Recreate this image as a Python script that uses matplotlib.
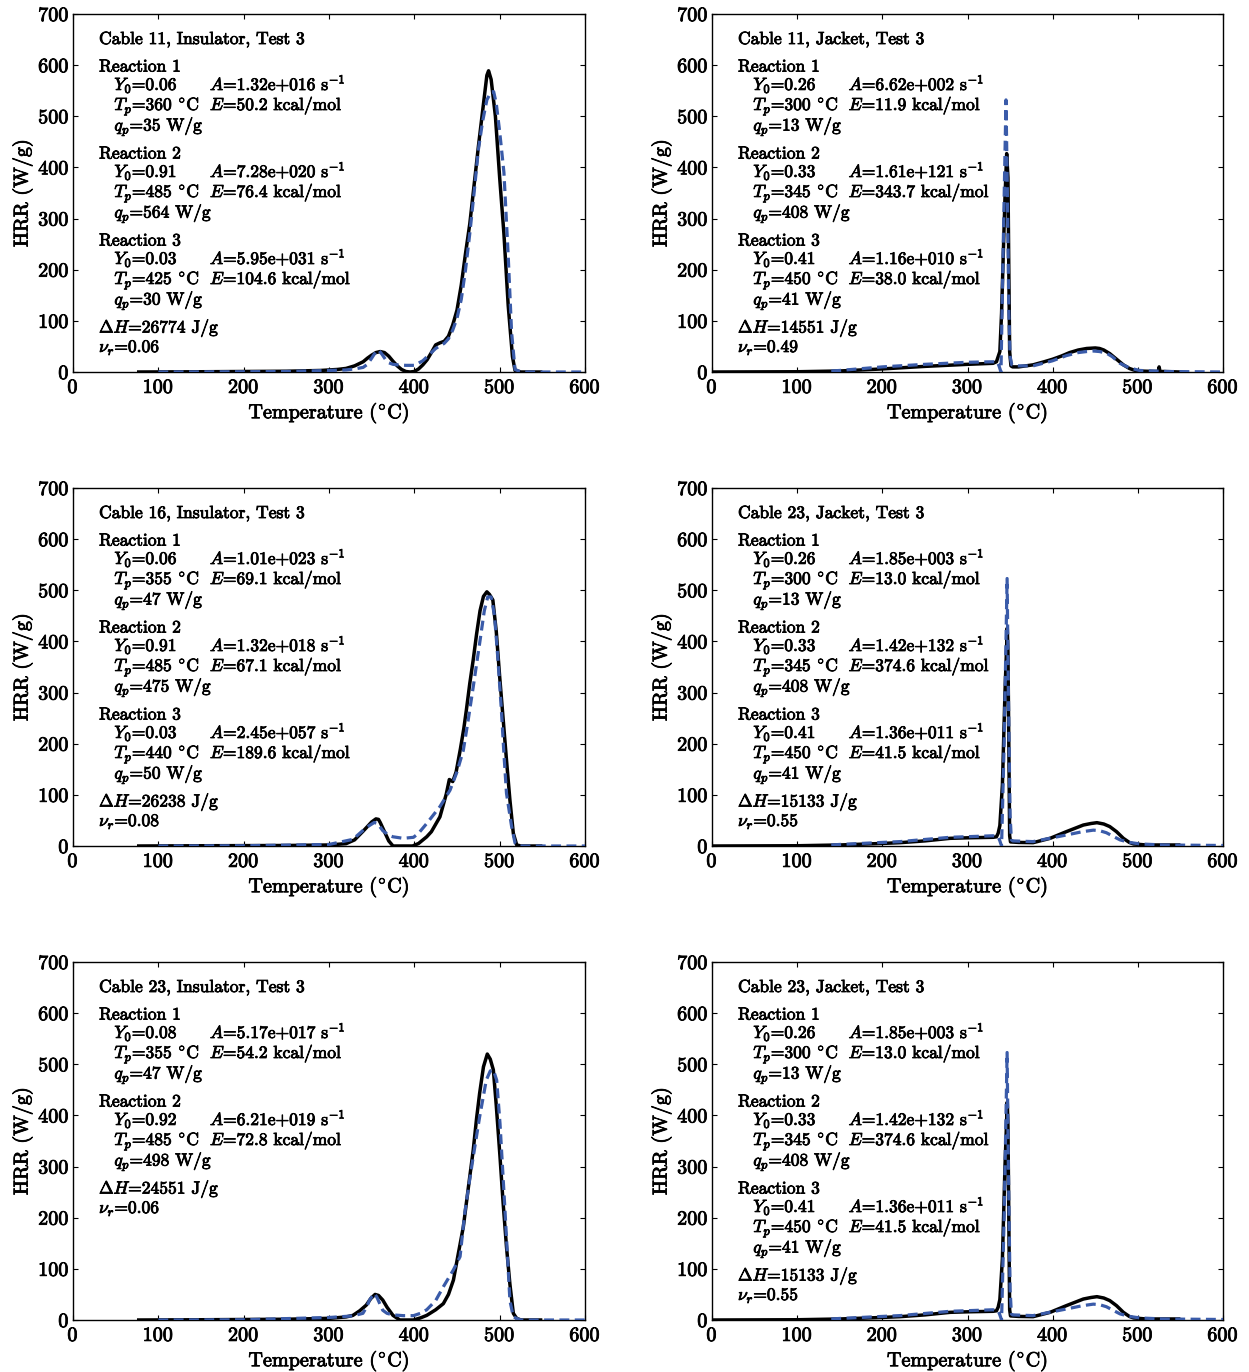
import matplotlib
matplotlib.use('Agg')
import matplotlib.pyplot as plt
import matplotlib.patheffects as pe
from matplotlib.transforms import blended_transform_factory

plt.rcParams.update({
    'font.family': ['cmr10', 'DejaVu Serif'],
    'mathtext.fontset': 'cm',
    'axes.unicode_minus': False,
    'axes.formatter.use_mathtext': True,
})

# ---------------- data ----------------
# Panel A: Cable 11, Insulator
c11i_exp_T = [75, 150, 200, 250, 290, 300, 310, 320, 330, 340, 345, 350, 355, 360, 365, 370, 375, 380, 385, 390,
              395, 400, 405, 410, 415, 420, 425, 430, 435, 440, 445, 450, 455, 460, 465, 470, 475, 480, 485, 487,
              490, 495, 500, 505, 510, 515, 518, 525, 550]
c11i_exp_H = [0, 0.5, 1, 1.5, 3, 4, 5, 7, 12, 20, 27, 33, 38, 40, 38, 31, 21, 12, 5, 1,
              0, 1, 6, 14, 24, 38, 53, 57, 60, 70, 92, 121, 170, 232, 290, 365, 440, 510, 580, 589,
              572, 500, 380, 270, 130, 30, 3, 0, 0]
c11i_mod_T = [100, 200, 250, 300, 320, 330, 340, 345, 350, 355, 358, 362, 366, 370, 375, 380, 390, 400, 410, 415,
              420, 425, 430, 435, 440, 445, 450, 455, 460, 465, 470, 475, 480, 485, 490, 493, 496, 500, 505, 510,
              514, 518, 525, 600]
c11i_mod_H = [0, 0.5, 1, 3, 4, 6, 9, 15, 27, 40, 43, 35, 25, 18, 15, 14, 13, 13, 22, 30,
              38, 46, 51, 56, 65, 82, 105, 142, 200, 271, 350, 434, 490, 532, 548, 548, 525, 470, 390, 227,
              77, 5, 0, 0]

# Panel B: Cable 11, Jacket
c11j_exp_T = [0, 100, 150, 200, 250, 300, 330, 334, 338, 340, 342, 344, 346, 347.5, 348.5, 349.5, 351, 353, 360, 377,
              390, 400, 410, 420, 430, 440, 450, 455, 460, 467, 475, 483, 490, 495, 500, 520, 524, 525, 526, 530,
              550]
c11j_exp_H = [0, 0.5, 2, 6, 11, 15, 17, 20, 40, 115, 230, 340, 427, 380, 200, 40, 12, 10, 10, 14,
              20, 25, 31, 38, 43, 46, 47, 46, 43, 36, 25, 14, 7, 4, 2, 1, 1, 10, 1, 1,
              0]
c11j_mod_T = [140, 150, 200, 250, 300, 330, 335, 337, 339.3, 342, 345.2, 347, 348.5, 350, 352, 360, 377, 400, 416, 430,
              440, 448, 455, 463, 470, 479, 490, 502, 534, 600]
c11j_mod_H = [2, 3, 10, 15, 19, 20, 20, 12, 0, 250, 532, 330, 120, 30, 14, 12, 12, 22, 32, 38,
              40, 41, 40, 37, 30, 17, 8, 3, 1, 0]

# Panel C: Cable 16, Insulator
c16i_exp_T = [75, 150, 250, 300, 320, 330, 340, 345, 350, 355, 358, 360, 365, 370, 375, 398, 405, 414.5, 420, 430,
              437.5, 441, 445, 449, 454, 458, 461, 465, 469, 473, 477, 481, 485, 488, 492, 496, 500, 504, 508, 512,
              516, 520, 525, 550]
c16i_exp_H = [0, 0.5, 1, 2, 4.6, 12, 29, 38, 47, 53, 52, 46, 28, 10, 0, 0, 5, 18, 28, 57,
              102, 130, 126, 145, 190, 230, 266, 318, 364, 415, 460, 488, 497, 492, 481, 420, 331, 250, 168, 90,
              25, 2, 0, 0]
c16i_mod_T = [100, 200, 300, 328, 343.6, 353, 357, 363, 370, 375, 387, 399, 405, 414.5, 422, 430, 441.8, 450, 457.4, 463,
              469, 476.5, 482, 486, 490, 494, 498, 502, 505, 508, 514, 518, 524, 600]
c16i_mod_H = [0, 0.5, 3, 13, 36, 46, 44, 30, 21, 18, 15, 17, 25, 44, 60, 77, 109, 145, 187, 245,
              311, 396, 460, 487, 487, 450, 364, 266, 180, 103, 38, 6, 0, 0]

# Panel D/F: Cable 23, Jacket
c23j_exp_T = [0, 100, 150, 200, 220.7, 250, 279.5, 300, 330, 334, 336, 338, 341, 344, 346.7, 347.5, 348.5, 349.5, 350.5, 360,
              377, 397, 416, 436, 445, 452, 460, 467, 475, 483, 490, 495, 510, 550]
c23j_exp_H = [0, 0.5, 2, 5, 6.5, 10, 15, 16, 17, 18, 25, 40, 120, 300, 426, 380, 200, 20, 8, 7,
              6.5, 15, 28, 41, 44, 45.6, 43, 38, 28, 15, 7, 4, 2, 2]
c23j_mod_T = [140, 150, 200, 220.7, 279.5, 330, 336, 338, 340, 343, 346.5, 348, 350, 351.5, 353, 377, 416, 435, 447.8, 455,
              463, 479, 490, 502.6, 530, 600]
c23j_mod_H = [2, 3, 7, 8.6, 17, 20, 18, 10, 0, 200, 523, 300, 60, 12, 10, 8.6, 21.5, 28, 31, 30,
              26, 12, 7, 4, 2, 1]

# Panel E: Cable 23, Insulator
c23i_exp_T = [75, 150, 250, 301, 320, 328, 336, 343.6, 349, 354, 358, 363, 368, 375, 383, 399, 407, 414.5, 425, 434,
              440, 445.8, 451, 457.4, 463, 469, 473, 476.5, 481, 485.5, 489, 492.6, 496, 500.4, 504, 508, 512, 516, 520, 525,
              550]
c23i_exp_H = [0, 0.5, 1.5, 3.3, 6, 9, 18, 29, 42, 50, 48, 39, 25, 9, 0, 0, 4, 9, 20, 32,
              50, 78, 125, 182, 255, 332, 395, 443, 495, 520, 510, 489, 420, 319, 230, 143, 70, 13, 3, 0,
              0]
c23i_mod_T = [100, 200, 301, 328, 339.7, 344, 347.5, 353, 356, 360, 363, 368, 375, 387, 399, 407, 414.5, 425, 434, 445.8,
              453.6, 459, 464, 469, 476.5, 484.3, 489, 492.6, 496.5, 500.4, 506, 509, 512, 516, 520, 525, 600]
c23i_mod_H = [0, 0.5, 5, 8, 13, 25, 39, 52, 45, 30, 19, 13, 10, 8.5, 8.5, 13, 20, 38, 65, 98,
              124, 208, 265, 319, 397, 469, 487, 489, 469, 384, 221, 130, 38, 6, 3, 0, 0]

# Annotation parameters: (Y0, Tp, qp, A, E) per reaction
c11i_title = 'Cable 11, Insulator, Test 3'
c11i_rxn = [('0.06', '360', '35', '1.32e+016', '50.2'),
            ('0.91', '485', '564', '7.28e+020', '76.4'),
            ('0.03', '425', '30', '5.95e+031', '104.6')]
c11i_dH, c11i_nu = '26774', '0.06'

c11j_title = 'Cable 11, Jacket, Test 3'
c11j_rxn = [('0.26', '300', '13', '6.62e+002', '11.9'),
            ('0.33', '345', '408', '1.61e+121', '343.7'),
            ('0.41', '450', '41', '1.16e+010', '38.0')]
c11j_dH, c11j_nu = '14551', '0.49'

c16i_title = 'Cable 16, Insulator, Test 3'
c16i_rxn = [('0.06', '355', '47', '1.01e+023', '69.1'),
            ('0.91', '485', '475', '1.32e+018', '67.1'),
            ('0.03', '440', '50', '2.45e+057', '189.6')]
c16i_dH, c16i_nu = '26238', '0.08'

c23j_title = 'Cable 23, Jacket, Test 3'
c23j_rxn = [('0.26', '300', '13', '1.85e+003', '13.0'),
            ('0.33', '345', '408', '1.42e+132', '374.6'),
            ('0.41', '450', '41', '1.36e+011', '41.5')]
c23j_dH, c23j_nu = '15133', '0.55'

c23i_title = 'Cable 23, Insulator, Test 3'
c23i_rxn = [('0.08', '355', '47', '5.17e+017', '54.2'),
            ('0.92', '485', '498', '6.21e+019', '72.8')]
c23i_dH, c23i_nu = '24551', '0.06'

x_ticks = [0, 100, 200, 300, 400, 500, 600]
y_ticks = [0, 100, 200, 300, 400, 500, 600, 700]

panels = [
    (c11i_exp_T, c11i_exp_H, c11i_mod_T, c11i_mod_H, c11i_title, c11i_rxn, c11i_dH, c11i_nu),
    (c11j_exp_T, c11j_exp_H, c11j_mod_T, c11j_mod_H, c11j_title, c11j_rxn, c11j_dH, c11j_nu),
    (c16i_exp_T, c16i_exp_H, c16i_mod_T, c16i_mod_H, c16i_title, c16i_rxn, c16i_dH, c16i_nu),
    (c23j_exp_T, c23j_exp_H, c23j_mod_T, c23j_mod_H, c23j_title, c23j_rxn, c23j_dH, c23j_nu),
    (c23i_exp_T, c23i_exp_H, c23i_mod_T, c23i_mod_H, c23i_title, c23i_rxn, c23i_dH, c23i_nu),
    (c23j_exp_T, c23j_exp_H, c23j_mod_T, c23j_mod_H, c23j_title, c23j_rxn, c23j_dH, c23j_nu),
]

# ---------------- layout ----------------
W, H = 1249, 1372
fig = plt.figure(figsize=(W / 100, H / 100), dpi=100)
col_left = [73, 712]
col_width = [512, 511]
row_bottom = [372, 846, 1320]
ax_h = 358

BLUE = '#3a5ba9'
FS_TICK = 14.5
FS_TXT = 12.6
THICK = [pe.withStroke(linewidth=0.6, foreground='black')]
DEG = r'$^{\!\circ\!}$'

for i, (eT, eH, mT, mH, title, rxn, dH, nu) in enumerate(panels):
    r, c = divmod(i, 2)
    ax = fig.add_axes([col_left[c] / W, (H - row_bottom[r]) / H, col_width[c] / W, ax_h / H])
    ax.plot(eT, eH, color='black', lw=2.5, solid_capstyle='butt', zorder=3)
    ax.plot(mT, mH, color=BLUE, lw=2.3, ls=(0, (3.1, 1.7)), zorder=4)
    ax.set_xlim(0, 600)
    ax.set_ylim(0, 700)
    ax.set_xticks(x_ticks)
    ax.set_yticks(y_ticks)
    ax.tick_params(direction='in', top=True, right=True, length=3.6, width=0.8,
                   labelsize=FS_TICK)
    ax.tick_params(axis='x', pad=5)
    ax.tick_params(axis='y', pad=2.5)
    for s in ax.spines.values():
        s.set_linewidth(1.0)
    xl = ax.set_xlabel('Temperature (' + DEG + 'C)', fontsize=FS_TICK, labelpad=3)
    yl = ax.set_ylabel('HRR (W/g)', fontsize=FS_TICK, labelpad=4)
    for t in [xl, yl] + ax.get_xticklabels() + ax.get_yticklabels():
        t.set_path_effects(THICK)

    tr = blended_transform_factory(ax.transData, ax.transAxes)

    def put(x, off, s):
        ax.text(x, 1 - off / ax_h, s, transform=tr, fontsize=FS_TXT, va='baseline', ha='left',
                path_effects=THICK)

    x0, x1, x2 = 30.5, 48.5, 160.5
    put(x0, 30, title)
    base = 57.5
    for k, (y0, tp, qp, A, E) in enumerate(rxn):
        put(x0, base, 'Reaction %d' % (k + 1))
        put(x1, base + 18.5, r'$Y_0$=' + y0)
        put(x2, base + 18.5, r'$A$=' + A + r' s$^{-1}$')
        put(x1, base + 38.5, r'$T_p$=' + tp + ' ' + DEG + 'C')
        put(x2, base + 38.5, r'$E$=' + E + ' kcal/mol')
        put(x1, base + 59, r'$q_p$=' + qp + ' W/g')
        base += 87
    put(x0, base, r'$\Delta H$=' + dH + ' J/g')
    put(x0, base + 19.5, r'$\nu_r$=' + nu)

fig.savefig('out.png', dpi=100)
